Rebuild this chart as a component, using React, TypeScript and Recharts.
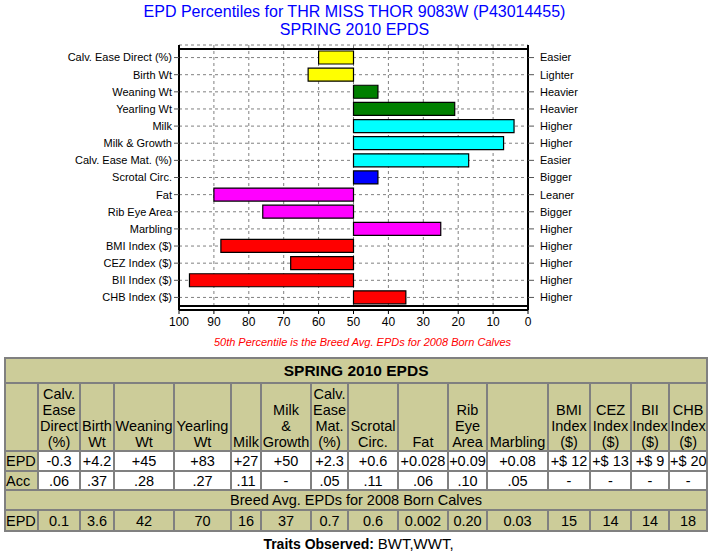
import React from 'react';
import {
  BarChart,
  Bar,
  XAxis,
  YAxis,
  CartesianGrid,
  ReferenceArea,
  Cell,
} from 'recharts';

const traits = [
  'Calv. Ease Direct (%)',
  'Birth Wt',
  'Weaning Wt',
  'Yearling Wt',
  'Milk',
  'Milk & Growth',
  'Calv. Ease Mat. (%)',
  'Scrotal Circ.',
  'Fat',
  'Rib Eye Area',
  'Marbling',
  'BMI Index ($)',
  'CEZ Index ($)',
  'BII Index ($)',
  'CHB Index ($)',
];

const directions = [
  'Easier', 'Lighter', 'Heavier', 'Heavier', 'Higher', 'Higher', 'Easier', 'Bigger',
  'Leaner', 'Bigger', 'Higher', 'Higher', 'Higher', 'Higher', 'Higher',
];

// percentile rank of each trait (100 = bottom, 0 = top)
const percentiles = [60, 63, 43, 21, 4, 7, 17, 43, 90, 76, 25, 88, 68, 97, 35];

const breedAvgPercentile = 50;

const xTicks = [100, 90, 80, 70, 60, 50, 40, 30, 20, 10, 0];

const barColors = [
  '#FFFF00', '#FFFF00', '#008000', '#008000', '#00FFFF', '#00FFFF', '#00FFFF', '#0000FF',
  '#FF00FF', '#FF00FF', '#FF00FF', '#FF0000', '#FF0000', '#FF0000', '#FF0000',
];

// table
const tableHeaders = [
  ['Calv.', 'Ease', 'Direct', '(%)'],
  ['Birth', 'Wt'],
  ['Weaning', 'Wt'],
  ['Yearling', 'Wt'],
  ['Milk'],
  ['Milk', '&', 'Growth'],
  ['Calv.', 'Ease', 'Mat.', '(%)'],
  ['Scrotal', 'Circ.'],
  ['Fat'],
  ['Rib', 'Eye', 'Area'],
  ['Marbling'],
  ['BMI', 'Index', '($)'],
  ['CEZ', 'Index', '($)'],
  ['BII', 'Index', '($)'],
  ['CHB', 'Index', '($)'],
];
const epdValues = ['-0.3', '+4.2', '+45', '+83', '+27', '+50', '+2.3', '+0.6', '+0.028', '+0.09', '+0.08', '+$ 12', '+$ 13', '+$ 9', '+$ 20'];
const accValues = ['.06', '.37', '.28', '.27', '.11', '-', '.05', '.11', '.06', '.10', '.05', '-', '-', '-', '-'];
const breedAvgEpds = ['0.1', '3.6', '42', '70', '16', '37', '0.7', '0.6', '0.002', '0.20', '0.03', '15', '14', '14', '18'];
const colWidths = [33, 42, 34, 60, 57, 30, 50, 37, 50, 50, 39, 61, 42, 41, 38, 38];

const khaki = '#CCCC99';
const cellBorder = '1px solid #808080';

const chartData = traits.map((name, i) => ({
  name,
  range: [breedAvgPercentile, percentiles[i]],
}));

const tdBase: React.CSSProperties = {
  border: cellBorder,
  padding: 0,
  textAlign: 'center',
  background: khaki,
  whiteSpace: 'nowrap',
};

export default function App() {
  return (
    <div style={{ width: 709, height: 554, position: 'relative', fontFamily: 'Arial, "Liberation Sans", sans-serif' }}>
      <style>{'body{margin:0}'}</style>
      <div
        style={{
          position: 'absolute',
          top: 3,
          left: 0,
          width: 709,
          textAlign: 'center',
          color: '#0000FF',
          fontSize: 16,
          lineHeight: '18px',
        }}
      >
        <div>EPD Percentiles for THR MISS THOR 9083W (P43014455)</div>
        <div>SPRING 2010 EPDS</div>
      </div>

      <BarChart
        width={709}
        height={350}
        data={chartData}
        layout="vertical"
        margin={{ top: 45, right: 0, left: 0, bottom: 18 }}
      >
        <CartesianGrid stroke="#808080" strokeDasharray="3 3" />
        <XAxis
          type="number"
          domain={[0, 100]}
          reversed
          ticks={xTicks}
          interval={0}
          height={22}
          tickSize={4}
          tickMargin={3}
          tick={{ fill: '#000', fontSize: 12 }}
          axisLine={{ stroke: '#000', strokeWidth: 2 }}
          tickLine={{ stroke: '#000' }}
        />
        <YAxis
          type="category"
          dataKey="name"
          width={179}
          interval={0}
          padding={{ top: 4, bottom: 4 }}
          tickSize={5}
          tickMargin={2}
          tick={{ fill: '#000', fontSize: 11 }}
          axisLine={{ stroke: '#000', strokeWidth: 2 }}
          tickLine={{ stroke: '#555' }}
        />
        <YAxis
          yAxisId="right"
          orientation="right"
          type="category"
          dataKey="name"
          width={181}
          interval={0}
          padding={{ top: 4, bottom: 4 }}
          tickSize={6}
          tickMargin={6}
          tickFormatter={(_v: string, i: number) => directions[i]}
          tick={{ fill: '#000', fontSize: 11 }}
          axisLine={{ stroke: '#000', strokeWidth: 2 }}
          tickLine={{ stroke: '#555' }}
        />
        <Bar dataKey="range" barSize={13} stroke="#000" strokeWidth={1.2} isAnimationActive={false}>
          {chartData.map((d, i) => (
            <Cell key={d.name} fill={barColors[i]} />
          ))}
        </Bar>
        <ReferenceArea x1={100} x2={0} fill="none" stroke="#000" strokeWidth={2} ifOverflow="visible" />
      </BarChart>

      <div
        style={{
          position: 'absolute',
          top: 336,
          left: 8,
          width: 709,
          textAlign: 'center',
          color: '#FF0000',
          fontStyle: 'italic',
          fontSize: 11,
        }}
      >
        50th Percentile is the Breed Avg. EPDs for 2008 Born Calves
      </div>

      <table
        style={{
          position: 'absolute',
          top: 357,
          left: 4,
          width: 702,
          tableLayout: 'fixed',
          borderCollapse: 'separate',
          borderSpacing: 0,
          border: cellBorder,
          fontSize: 14.5,
          lineHeight: '16px',
          color: '#000',
        }}
      >
        <colgroup>
          {colWidths.map((w, i) => (
            <col key={i} style={{ width: w }} />
          ))}
        </colgroup>
        <tbody>
          <tr style={{ height: 25 }}>
            <td colSpan={16} style={{ ...tdBase, fontWeight: 'bold', fontSize: 15.5 }}>SPRING 2010 EPDS</td>
          </tr>
          <tr style={{ height: 68 }}>
            <td style={tdBase}></td>
            {tableHeaders.map((lines, i) => (
              <td key={i} style={{ ...tdBase, verticalAlign: 'bottom' }}>
                {lines.map((l, j) => (
                  <div key={j}>{l}</div>
                ))}
              </td>
            ))}
          </tr>
          <tr style={{ height: 20 }}>
            <td style={{ ...tdBase, textAlign: 'left' }}>EPD</td>
            {epdValues.map((v, i) => (
              <td key={i} style={{ ...tdBase, background: '#fff' }}>{v}</td>
            ))}
          </tr>
          <tr style={{ height: 19 }}>
            <td style={{ ...tdBase, textAlign: 'left' }}>Acc</td>
            {accValues.map((v, i) => (
              <td key={i} style={{ ...tdBase, background: '#fff' }}>{v}</td>
            ))}
          </tr>
          <tr style={{ height: 20 }}>
            <td colSpan={16} style={tdBase}>Breed Avg. EPDs for 2008 Born Calves</td>
          </tr>
          <tr style={{ height: 21 }}>
            <td style={{ ...tdBase, textAlign: 'left' }}>EPD</td>
            {breedAvgEpds.map((v, i) => (
              <td key={i} style={tdBase}>{v}</td>
            ))}
          </tr>
        </tbody>
      </table>

      <div
        style={{
          position: 'absolute',
          top: 535,
          left: 4,
          width: 709,
          textAlign: 'center',
          fontSize: 15,
        }}
      >
        <b style={{ fontSize: 14 }}>Traits Observed: </b>BWT,WWT,
      </div>
    </div>
  );
}
